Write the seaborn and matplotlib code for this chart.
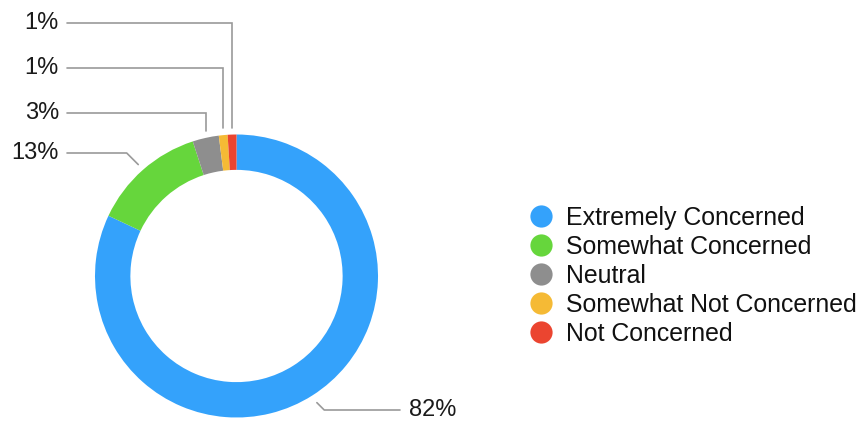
import numpy as np
import matplotlib
matplotlib.use("Agg")
import matplotlib.pyplot as plt
from matplotlib.lines import Line2D
import seaborn as sns

categories = ["Extremely Concerned", "Somewhat Concerned", "Neutral",
              "Somewhat Not Concerned", "Not Concerned"]
values = [82, 13, 3, 1, 1]
colors = ["#34A2FB", "#66D63C", "#8E8E8E", "#F5BA35", "#EB4530"]

sns.set_theme(style="white")
plt.rcParams["font.family"] = ["Liberation Sans", "DejaVu Sans"]

W, H = 866, 423
fig = plt.figure(figsize=(W / 100, H / 100), dpi=100)
ax = fig.add_axes([0, 0, 1, 1])

cx, cy, R = 236.5, 147.0, 141.5
wedges, _ = ax.pie(values, colors=colors, startangle=90, counterclock=False,
                   radius=R, center=(cx, cy), frame=True,
                   wedgeprops=dict(width=R * 0.25, linewidth=0))
ax.set_xlim(0, W)
ax.set_ylim(0, H)
ax.set_axis_off()

total = float(sum(values))
cum = np.cumsum([0] + values[:-1])
mids = [(c + v / 2) / total for c, v in zip(cum, values)]
labels = [f"{v:.0f}%" for v in values]

lc = "#9a9a9a"
lw = 1.2
fs = 17
tc = "#1a1a1a"
x_line_end = 67
x_text = 59

# small wedges at top: vertical then horizontal leaders
rows = {4: 400, 3: 355, 2: 310}
for i, ry in rows.items():
    th = 2 * np.pi * mids[i]
    px = cx + R * np.sin(th)
    py = cy + R * np.cos(th) + 7
    ax.plot([px, px, x_line_end], [py, ry, ry], color=lc, lw=lw,
            solid_joinstyle="miter")
    ax.text(x_text, ry, labels[i], ha="right", va="center", fontsize=fs,
            color=tc)

# green wedge: short diagonal then horizontal
th = 2 * np.pi * mids[1]
px = cx + 1.05 * R * np.sin(th)
py = cy + 1.05 * R * np.cos(th)
ey = 270
ax.plot([px, px - (ey - py), x_line_end], [py, ey, ey], color=lc, lw=lw)
ax.text(x_text, ey, labels[1], ha="right", va="center", fontsize=fs,
        color=tc)

# blue wedge: short diagonal then horizontal to the right
th = 2 * np.pi * mids[0]
px = cx + 1.06 * R * np.sin(th)
py = cy + 1.06 * R * np.cos(th)
ey = 13
ax.plot([px, px + (py - ey), 400], [py, ey, ey], color=lc, lw=lw)
ax.text(409, ey, labels[0], ha="left", va="center", fontsize=fs,
        color=tc)

handles = [Line2D([], [], marker="o", linestyle="", markersize=16,
                  markerfacecolor=c, markeredgewidth=0) for c in colors]
fsl = 17.9
leg = ax.legend(handles, categories, loc="center left",
                bbox_to_anchor=(529 / W, (H - 276) / H),
                bbox_transform=fig.transFigure, frameon=False,
                fontsize=fsl, handlelength=23.6 / (fsl * 100 / 72),
                handletextpad=13.2 / (fsl * 100 / 72),
                labelspacing=0.2, borderpad=0, borderaxespad=0)
for t in leg.get_texts():
    t.set_color("#111111")

fig.savefig("out.png", dpi=100, facecolor="white")
